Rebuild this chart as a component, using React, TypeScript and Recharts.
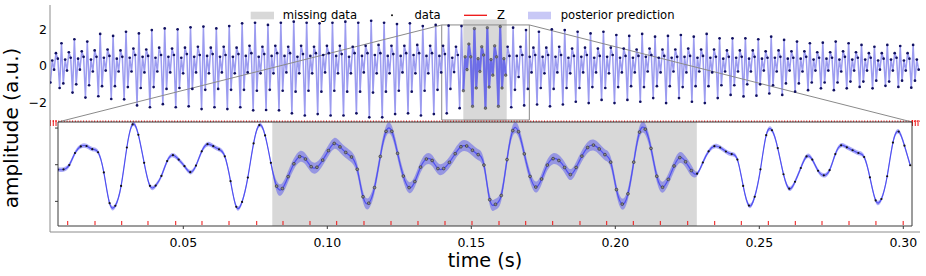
import React from 'react';
import { ComposedChart, Line, Area, XAxis, YAxis, ReferenceArea, ReferenceLine } from 'recharts';

const FONT = '"DejaVu Sans", Verdana, sans-serif';

// full recording shown in the upper strip, 7 samples per oscillation
const TOP_T0 = 0.0014;
const TOP_DT = 0.00624;
const TOP_VALUES = [
  -0.9, 0.3, -0.2, 0.7, 0.4, -1.2,
  1.24, -0.95, 0.35, -0.25, 0.75, 0.45, -1.45,
  1.46, -1.0, 0.4, -0.2, 0.8, 0.5, -1.72,
  1.33, -1.05, 0.35, -0.3, 0.85, 0.5, -1.65,
  1.75, -1.1, 0.45, -0.25, 0.9, 0.55, -1.8,
  1.64, -1.1, 0.4, -0.3, 0.85, 0.5, -1.82,
  1.87, -1.15, 0.45, -0.3, 0.95, 0.6, -2.15,
  1.78, -1.2, 0.5, -0.35, 0.9, 0.55, -2.25,
  1.96, -1.15, 0.45, -0.3, 1.0, 0.6, -2.08,
  2.05, -1.25, 0.5, -0.35, 0.95, 0.6, -2.25,
  2.0, -1.2, 0.45, -0.4, 1.0, 0.65, -2.2,
  2.11, -1.25, 0.5, -0.35, 1.05, 0.6, -2.35,
  2.15, -1.3, 0.55, -0.4, 1.0, 0.65, -2.25,
  2.05, -1.25, 0.5, -0.35, 1.05, 0.6, -2.35,
  2.18, -1.3, 0.5, -0.4, 1.0, 0.65, -2.25,
  2.33, -1.3, 0.55, -0.35, 1.1, 0.7, -2.42,
  2.36, -1.35, 0.5, -0.4, 1.05, 0.65, -2.4,
  2.24, -1.3, 0.55, -0.4, 1.1, 0.7, -2.42,
  2.36, -1.35, 0.55, -0.35, 1.05, 0.7, -2.58,
  2.42, -1.4, 0.5, -0.4, 1.1, 0.65, -2.7,
  2.36, -1.35, 0.55, -0.4, 1.05, 0.7, -2.62,
  2.33, -1.4, 0.6, -0.35, 1.1, 0.7, -2.7,
  2.36, -1.35, 0.55, -0.4, 1.1, 0.65, -2.7,
  2.42, -1.4, 0.5, -0.4, 1.05, 0.7, -2.58,
  2.36, -1.4, 0.55, -0.35, 1.1, 0.7, -2.8,
  2.47, -1.45, 0.6, -0.4, 1.15, 0.7, -2.8,
  2.36, -1.4, 0.55, -0.4, 1.1, 0.65, -2.62,
  2.29, -1.35, 0.55, -0.35, 1.1, 0.7, -2.58,
  2.33, -1.4, 0.6, -0.4, 1.15, 0.7, -2.7,
  2.18, -1.35, 0.55, -0.4, 1.1, 0.7, -2.62,
  2.24, -1.3, 0.55, -0.35, 1.1, 0.65, -2.58,
  2.2, -1.25, 0.45, -0.33, 1.05, 0.6, -2.3,
  2.18, -1.35, 0.5, -0.2, 1.2, 0.5, -2.2,
  2.04, -1.2, 0.4, -0.3, 1.05, 0.6, -2.3,
  2.09, -1.15, 0.35, -0.5, 1.1, 0.5, -2.2,
  2.15, -1.2, 0.4, -0.5, 1.05, 0.55, -2.25,
  2.09, -1.3, 0.55, -0.6, 1.05, 0.6, -2.15,
  1.96, -1.25, 0.5, -0.35, 1.0, 0.6, -2.1,
  1.87, -1.2, 0.5, -0.4, 1.0, 0.6, -2.2,
  2.0, -1.25, 0.5, -0.35, 1.05, 0.6, -2.1,
  1.96, -1.2, 0.45, -0.4, 0.95, 0.55, -1.95,
  1.87, -1.2, 0.5, -0.35, 1.0, 0.6, -2.02,
  1.78, -1.15, 0.45, -0.35, 0.95, 0.55, -1.85,
  1.87, -1.2, 0.5, -0.4, 1.0, 0.6, -2.02,
  1.69, -1.15, 0.45, -0.35, 0.95, 0.55, -1.85,
  1.64, -1.1, 0.45, -0.35, 0.9, 0.55, -1.95,
  1.75, -1.15, 0.5, -0.3, 0.95, 0.6, -1.75,
  1.6, -1.1, 0.45, -0.35, 0.9, 0.55, -2.02,
  1.64, -1.1, 0.45, -0.3, 0.9, 0.5, -1.75,
  1.69, -1.15, 0.5, -0.35, 0.95, 0.55, -1.95,
  1.6, -1.1, 0.45, -0.3, 0.9, 0.55, -2.02,
  1.75, -1.1, 0.45, -0.35, 0.9, 0.5, -1.75,
  1.51, -1.05, 0.4, -0.3, 0.85, 0.5, -1.58,
  1.51, -1.05, 0.45, -0.3, 0.85, 0.5, -1.66,
  1.51, -1.0, 0.4, -0.3, 0.85, 0.5, -1.62,
  1.46, -1.0, 0.4, -0.25, 0.8, 0.45, -1.5,
  1.6, -1.05, 0.45, -0.3, 0.85, 0.5, -1.58,
  1.42, -0.95, 0.4, -0.25, 0.8, 0.45, -1.4,
  1.33, -0.95, 0.4, -0.3, 0.8, 0.5, -1.32,
  1.24, -0.9, 0.35, -0.25, 0.75, 0.45, -1.22,
  1.27, -0.9, 0.4, -0.25, 0.75, 0.45, -1.32,
  1.33, -0.9, 0.35, -0.3, 0.8, 0.5, -1.22,
  1.24, -0.85, 0.35, -0.25, 0.75, 0.45, -1.14,
  1.15, -0.85, 0.35, -0.25, 0.7, 0.45, -1.22,
  1.05, -0.8, 0.3, -0.2, 0.7, 0.4, -1.08,
  1.15, -0.85, 0.35, -0.25, 0.7, 0.45, -1.14,
  1.09, -0.8, 0.3, -0.25, 0.7, 0.4, -1.18,
  1.15, -0.8, 0.35, -0.2,
];

// zoomed window, one sample every 2 ms
const INSET_T0 = 0.0064;
const INSET_DT = 0.002;
const INSET_VALUES = [
  -0.27, -0.26, -0.02, 0.64, 1.0, 1.02, 0.85, 0.68, -0.42, -2.1,
  -2.24, -1.16, 0.94, 2.2, 1.63, 0.1, -1.15, -1.14, -0.61, 0.2,
  0.52, 0.28, -0.08, -0.41, -0.05, 0.73, 1.12, 1.01, 0.84, 0.46,
  -0.9, -2.3, -2.03, -0.7, 1.16, 2.16, 1.6, 0.1, -1.17, -1.3,
  -0.65, 0.05, 0.44, 0.31, -0.11, -0.14, 0.25, 0.77, 1.16, 0.97,
  0.67, 0.42, -0.25, -1.75, -2.1, -1.25, 0.45, 1.82, 1.82, 0.62,
  -0.62, -1.25, -0.92, -0.13, 0.31, 0.23, -0.21, -0.21, 0.13, 0.6,
  0.98, 1.02, 0.79, 0.55, -0.02, -1.91, -2.16, -1.68, 0.28, 1.86,
  1.8, 0.59, -0.64, -1.22, -0.78, -0.02, 0.33, 0.23, -0.15, -0.54,
  -0.15, 0.47, 0.94, 1.07, 0.86, 0.55, 0.14, -1.36, -2.15, -1.59,
  0.14, 1.78, 1.94, 0.89, -0.63, -1.23, -0.8, -0.07, 0.39, 0.16,
  -0.32, -0.49, 0.12, 0.73, 1.01, 0.94, 0.72, 0.58, 0.28, -1.16,
  -2.23, -1.75, -0.25, 1.61, 1.88, 0.91, -0.52, -1.31, -0.93, -0.18,
  0.45, 0.28, -0.33, -0.58, -0.3, 0.58, 1.06, 0.95, 0.79, 0.64,
  0.42, -0.69, -1.95, -1.87, -0.63, 1.21, 1.81, 1.04, -0.03,
];

// Z event times (s)
const Z_TIMES = [
  0.00986, 0.01934, 0.02861, 0.03774, 0.04736, 0.05649, 0.06587, 0.07549,
  0.08462, 0.09399, 0.10326, 0.11274, 0.12212, 0.13149, 0.14087, 0.15024,
  0.15962, 0.16889, 0.17826, 0.18774, 0.19701, 0.20625, 0.21563, 0.22514,
  0.23451, 0.24375, 0.25313, 0.2625, 0.27177, 0.28115, 0.2905, 0.29996,
];

const TIME_TICKS = [0.05, 0.1, 0.15, 0.2, 0.25, 0.3];
const AMP_TICKS = [-2, 0, 2];

const GAP = [0.0809, 0.2283];          // missing data, inset time axis
const GAP_TOP = [1.3991, 1.546];       // same span on the full-recording axis
const WINDOW_TOP = [1.326, 1.6226];    // inset window on the full-recording axis
const BAND = { observed: 0.12, missing: 0.3 };

// layout
const W = 926;
const H = 276;
const PLOT = { left: 50, right: 920, top: 5, bottom: 232 };
const FULL_DOMAIN = [0, 2.945];
const AMP_DOMAIN = [-9.056, 3.328];
const INSET = { left: 58, right: 912, top: 122, bottom: 226 };
const INSET_TIME_DOMAIN = [0.00649, 0.30302];
const INSET_AMP_DOMAIN = [-3.344, 2.33];

const fullAt = (px: number) =>
  FULL_DOMAIN[0] + ((px - PLOT.left) / (PLOT.right - PLOT.left)) * (FULL_DOMAIN[1] - FULL_DOMAIN[0]);
const ampAt = (py: number) =>
  AMP_DOMAIN[1] - ((py - PLOT.top) / (PLOT.bottom - PLOT.top)) * (AMP_DOMAIN[1] - AMP_DOMAIN[0]);

const topRows = TOP_VALUES.map((v, i) => {
  const tt = TOP_T0 + i * TOP_DT;
  const inGap = tt >= GAP_TOP[0] && tt <= GAP_TOP[1];
  return { tt, v, obs: inGap ? null : v, miss: inGap ? v : null };
});

const insetRows = INSET_VALUES.map((v, i) => {
  const t = INSET_T0 + i * INSET_DT;
  const inGap = t >= GAP[0] && t <= GAP[1];
  const w = inGap ? BAND.missing : BAND.observed;
  return { t, mean: v, band: [v - w, v + w], obs: inGap ? null : v, miss: inGap ? v : null };
});

const fmtAmp = (v: number) => (v < 0 ? `\u2212${Math.abs(v)}` : `${v}`);
const tickStyle = { fontSize: 12.5, fill: '#000', fontFamily: FONT };

const App = () => {
  const winTopY = 2.24;
  const winBottomY = ampAt(120);
  const insetTopY = ampAt(INSET.top);
  const axisH = PLOT.bottom - INSET.bottom; // inset x-axis reaches below the outer spine
  const padRight = 14;
  return (
    <div style={{ position: 'absolute', left: 0, top: 0, width: W, height: H, background: '#fff', overflow: 'hidden', fontFamily: FONT }}>
      <ComposedChart width={W} height={H} data={topRows} margin={{ top: PLOT.top, right: W - PLOT.right, bottom: 14, left: 8 }}>
        <XAxis xAxisId="full" dataKey="tt" type="number" orientation="top" domain={FULL_DOMAIN} allowDataOverflow hide />
        <XAxis xAxisId="spine" dataKey="tt" type="number" domain={FULL_DOMAIN} height={30} tick={false} tickLine={false} axisLine={{ stroke: '#8c8c8c' }} />
        <YAxis
          yAxisId="main"
          type="number"
          domain={AMP_DOMAIN}
          ticks={AMP_TICKS}
          allowDataOverflow
          width={42}
          tickFormatter={fmtAmp}
          tick={tickStyle}
          tickLine={false}
          tickSize={2}
          tickMargin={1}
          axisLine={{ stroke: '#8c8c8c' }}
        />
        <ReferenceArea xAxisId="full" yAxisId="main" x1={GAP_TOP[0]} x2={GAP_TOP[1]} y1={ampAt(121)} y2={ampAt(19.5)} fill="#d8d8d8" fillOpacity={1} stroke="none" />
        <ReferenceArea xAxisId="full" yAxisId="main" x1={WINDOW_TOP[0]} x2={WINDOW_TOP[1]} y1={winBottomY} y2={winTopY} fill="none" stroke="#8a8a8a" strokeWidth={1} />
        <Line xAxisId="full" yAxisId="main" dataKey="v" type="linear" stroke="#9c9cf0" strokeWidth={1.5} dot={false} isAnimationActive={false} />
        <Line xAxisId="full" yAxisId="main" dataKey="miss" type="linear" stroke="#5c5ce6" strokeWidth={2.2} strokeOpacity={0.75} dot={{ r: 1.3, fill: '#7a7a7a', stroke: '#222', strokeWidth: 0.5 }} isAnimationActive={false} />
        <Line xAxisId="full" yAxisId="main" dataKey="obs" type="linear" stroke="none" dot={{ r: 1.35, fill: '#101060', stroke: 'none' }} isAnimationActive={false} />
        <ReferenceLine xAxisId="full" yAxisId="main" y={ampAt(121.2)} stroke="#ee1111" strokeWidth={1.5} strokeDasharray="1 1.76" />
        <ReferenceLine xAxisId="full" yAxisId="main" segment={[{ x: FULL_DOMAIN[0], y: ampAt(123) }, { x: fullAt(INSET.left), y: ampAt(123) }]} stroke="#ee1111" strokeWidth={6} strokeDasharray="1 1.76" />
        <ReferenceLine xAxisId="full" yAxisId="main" segment={[{ x: fullAt(INSET.right), y: ampAt(123) }, { x: FULL_DOMAIN[1], y: ampAt(123) }]} stroke="#ee1111" strokeWidth={6} strokeDasharray="1 1.76" />
        <ReferenceLine xAxisId="full" yAxisId="main" segment={[{ x: WINDOW_TOP[0], y: winTopY }, { x: fullAt(INSET.left), y: insetTopY }]} stroke="#8a8a8a" strokeWidth={1} />
        <ReferenceLine xAxisId="full" yAxisId="main" segment={[{ x: WINDOW_TOP[1], y: winTopY }, { x: fullAt(INSET.right), y: insetTopY }]} stroke="#8a8a8a" strokeWidth={1} />
      </ComposedChart>

      <div style={{ position: 'absolute', left: INSET.left - 4, top: INSET.top - 1 }}>
        <ComposedChart
          width={INSET.right - INSET.left + 4 + padRight}
          height={INSET.bottom - INSET.top + 1 + axisH + 20}
          data={insetRows}
          margin={{ top: 1, right: padRight, bottom: 0, left: 0 }}
        >
          <XAxis
            dataKey="t"
            type="number"
            domain={INSET_TIME_DOMAIN}
            ticks={TIME_TICKS}
            allowDataOverflow
            height={axisH + 20}
            tickSize={3}
            tickMargin={9}
            tickFormatter={(v: number) => v.toFixed(2)}
            tick={tickStyle}
            tickLine={{ stroke: '#3a3a3a' }}
            axisLine={false}
            interval={0}
          />
          <YAxis
            type="number"
            domain={INSET_AMP_DOMAIN}
            ticks={AMP_TICKS}
            allowDataOverflow
            width={4}
            tickSize={3}
            tickMargin={0}
            tickFormatter={() => ''}
            tickLine={{ stroke: '#3a3a3a' }}
            axisLine={false}
          />
          <ReferenceArea x1={GAP[0]} x2={GAP[1]} y1={INSET_AMP_DOMAIN[0]} y2={INSET_AMP_DOMAIN[1]} fill="#d8d8d8" fillOpacity={1} stroke="none" />
          <Area dataKey="band" type="natural" fill="#3c3cf0" fillOpacity={0.42} stroke="none" isAnimationActive={false} />
          <Line dataKey="mean" type="natural" stroke="#5050f0" strokeWidth={1.2} dot={false} isAnimationActive={false} />
          <Line dataKey="miss" stroke="none" dot={{ r: 1.4, fill: '#8a8a8a', stroke: '#2a2a2a', strokeWidth: 0.6 }} isAnimationActive={false} />
          <Line dataKey="obs" stroke="none" dot={{ r: 1.1, fill: '#111', stroke: 'none' }} isAnimationActive={false} />
          {Z_TIMES.map((z) => (
            <ReferenceLine key={z} segment={[{ x: z, y: -3.07 }, { x: z, y: -3.29 }]} stroke="#ee1111" strokeWidth={1} />
          ))}
          <ReferenceArea x1={INSET_TIME_DOMAIN[0]} x2={INSET_TIME_DOMAIN[1]} y1={INSET_AMP_DOMAIN[0]} y2={INSET_AMP_DOMAIN[1]} fill="none" stroke="#3a3a3a" strokeWidth={1} />
        </ComposedChart>
      </div>

      <svg width={W} height={H} style={{ position: 'absolute', left: 0, top: 0, pointerEvents: 'none' }}>
        <g fontFamily={FONT} fontSize={11.6} fill="#000">
          <rect x={250.7} y={11.7} width={23.3} height={7.6} fill="#d8d8d8" />
          <text x={282.7} y={18.8}>missing data</text>
          <circle cx={392} cy={15.3} r={1} fill="#111" />
          <text x={414.5} y={18.8}>data</text>
          <line x1={464} x2={487} y1={15.3} y2={15.3} stroke="#ee1111" strokeWidth={1.3} />
          <text x={497} y={18.8}>Z</text>
          <rect x={528} y={11.7} width={23} height={7.6} fill="#c8c8f6" />
          <text x={560.7} y={18.8}>posterior prediction</text>
        </g>
        <text x={485} y={266.5} textAnchor="middle" fontFamily={FONT} fontSize={19.2} fill="#000">time (s)</text>
        <text x={18} y={128} transform="rotate(-90 18 128)" textAnchor="middle" fontFamily={FONT} fontSize={20} fill="#000">amplitude (a.u.)</text>
      </svg>
    </div>
  );
};

export default App;
